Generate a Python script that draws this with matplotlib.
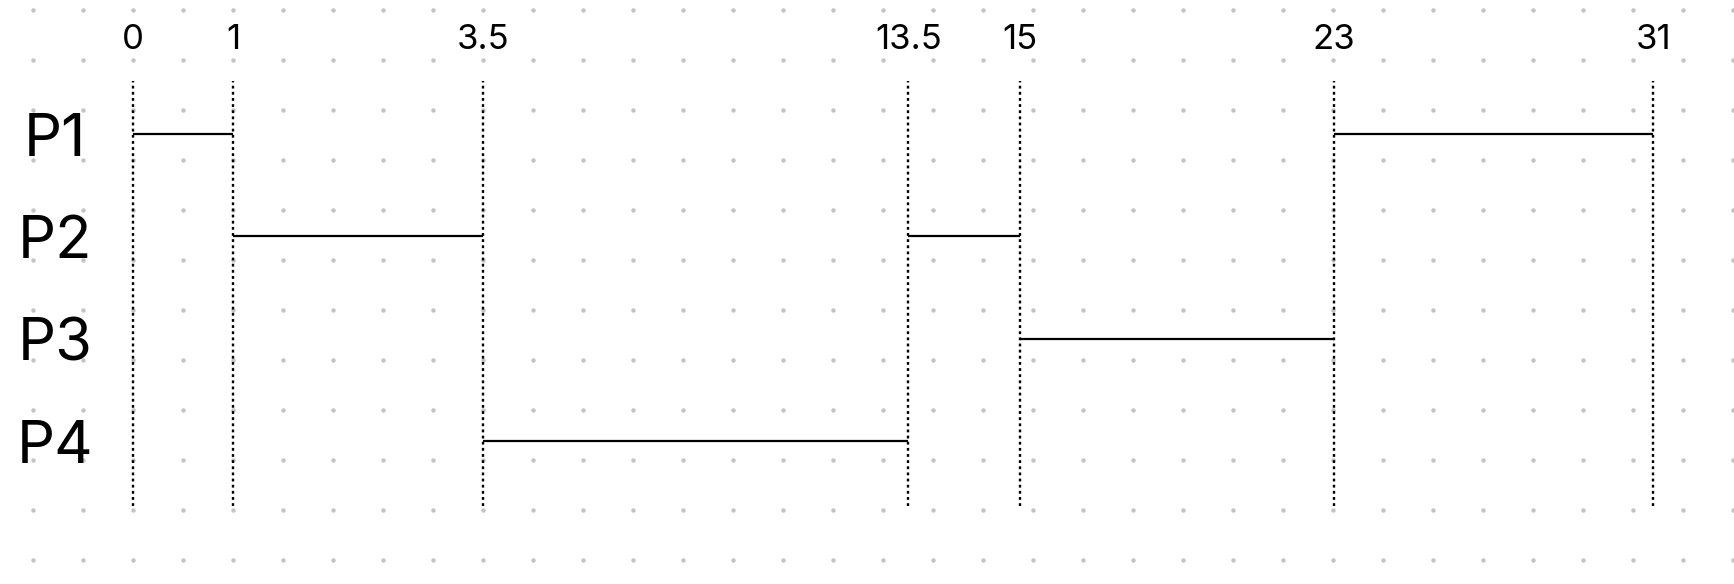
import numpy as np
import matplotlib
matplotlib.use('Agg')
import matplotlib.pyplot as plt

plt.rcParams['font.family'] = ['Inter', 'DejaVu Sans']

# 进程与时间片（甘特图）
processes = ['P1', 'P2', 'P3', 'P4']
seg_proc = ['P1', 'P2', 'P4', 'P2', 'P3', 'P1']
seg_start = [0, 1, 3.5, 13.5, 15, 23]
seg_end = [1, 3.5, 13.5, 15, 23, 31]
tick_times = [0, 1, 3.5, 13.5, 15, 23, 31]

# 原图不是按比例画的：每个时刻在横轴上的相对位置（0~1）
tick_frac = [0.0, 0.0662, 0.2306, 0.5100, 0.5834, 0.7899, 1.0]

W, H = 1734, 584
fig = plt.figure(figsize=(W / 100, H / 100), dpi=100)

# 背景点阵
bg = fig.add_axes([0, 0, 1, 1])
bg.set_xlim(0, W)
bg.set_ylim(H, 0)
gx, gy = np.meshgrid(np.arange(33, W + 1, 50), np.arange(10, H, 50))
bg.plot(gx.ravel(), gy.ravel(), 'o', ms=3.2, color='#c4c4c4', mec='none')
bg.axis('off')

# 主图
ax = fig.add_axes([132.7 / W, 78 / H, 1520.6 / W, 425 / H])
ax.patch.set_alpha(0)
ax.set_xscale('function', functions=(lambda t: np.interp(t, tick_times, tick_frac),
                                     lambda f: np.interp(f, tick_frac, tick_times)))
ax.set_xlim(0, 31)
ax.set_ylim(3.635, -0.52)

for t in tick_times:
    ax.axvline(t, color='black', lw=1.7, ls=(0, (1.2, 1.4)), clip_on=False)

row = {p: i for i, p in enumerate(processes)}
ax.hlines([row[p] for p in seg_proc], seg_start, seg_end, color='black', lw=1.6)

ax.xaxis.tick_top()
ax.set_xticks(tick_times)
ax.set_xticklabels([f'{t:g}' for t in tick_times], fontsize=25)
ax.tick_params(axis='x', length=0, pad=18)
ax.set_yticks(range(len(processes)))
ax.set_yticklabels(processes, fontsize=43)
ax.tick_params(axis='y', length=0, pad=56)
for lab in ax.get_yticklabels():
    lab.set_ha('center')
for s in ax.spines.values():
    s.set_visible(False)

fig.savefig('out.png', dpi=100)
